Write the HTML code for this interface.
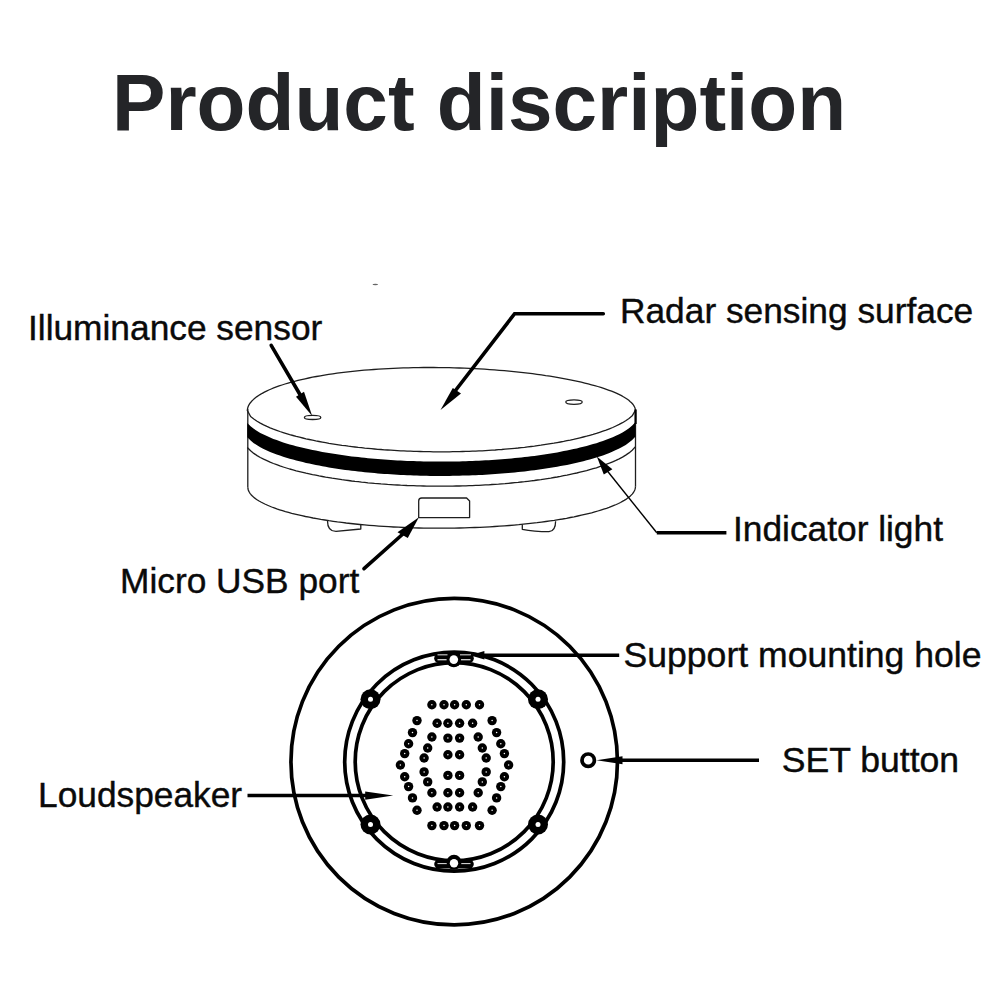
<!DOCTYPE html>
<html><head><meta charset="utf-8"><style>
html,body{margin:0;padding:0;background:#fff;width:1000px;height:1000px;overflow:hidden}
svg{position:absolute;left:0;top:0;display:block}
text{font-family:"Liberation Sans",sans-serif}
</style></head><body>
<svg width="1000" height="1000" viewBox="0 0 1000 1000">
<rect width="1000" height="1000" fill="#fff"/>
<ellipse cx="375.3" cy="284.5" rx="2.8" ry="0.7" fill="#666"/>
<text x="112" y="130.4" font-size="80.1" font-weight="bold" fill="#242528">Product discription</text>
<g font-size="35.3" fill="#0a0a0a" stroke="#0a0a0a" stroke-width="0.4">
<text x="28" y="340">Illuminance sensor</text>
<text x="620" y="323.4">Radar sensing surface</text>
<text x="733" y="541.3">Indicator light</text>
<text x="120" y="593">Micro USB port</text>
<text x="623.5" y="666.8" font-size="35.6">Support mounting hole</text>
<text x="781.8" y="772.2" font-size="35.6">SET button</text>
<text x="38" y="806.8">Loudspeaker</text>
</g>
<g fill="none" stroke="#1e1e1e" stroke-width="1.3" stroke-linejoin="round">
<polyline points="635.5,411.0 635.4,409.9 635.2,408.8 634.9,407.7 634.4,406.7 633.8,405.6 633.1,404.5 632.2,403.5 631.2,402.4 630.0,401.4 628.8,400.3 627.4,399.3 625.8,398.2 624.2,397.2 622.4,396.2 620.5,395.2 618.4,394.2 616.3,393.2 614.0,392.2 611.6,391.2 609.1,390.3 606.4,389.3 603.7,388.4 600.8,387.4 597.8,386.5 594.7,385.6 591.5,384.8 588.2,383.9 584.8,383.1 581.3,382.2 577.7,381.4 574.0,380.6 570.3,379.8 566.4,379.1 562.4,378.3 558.4,377.6 554.2,376.9 550.0,376.2 545.7,375.6 541.4,374.9 537.0,374.3 532.5,373.7 527.9,373.2 523.3,372.6 518.6,372.1 513.9,371.6 509.1,371.2 504.3,370.7 499.4,370.3 494.5,369.9 489.6,369.6 484.6,369.2 479.6,368.9 474.5,368.7 469.5,368.4 464.4,368.2 459.3,368.0 454.2,367.9 449.1,367.7 444.0,367.6 438.8,367.6 433.7,367.5 428.6,367.5 423.5,367.5 418.4,367.6 413.3,367.7 408.3,367.8 403.2,367.9 398.2,368.1 393.2,368.3 388.3,368.6 383.4,368.8 378.5,369.1 373.7,369.5 368.9,369.8 364.2,370.2 359.5,370.6 354.9,371.1 350.3,371.6 345.8,372.1 341.4,372.6 337.1,373.2 332.8,373.8 328.6,374.4 324.4,375.1 320.4,375.8 316.4,376.5 312.5,377.2 308.8,378.0 305.1,378.8 301.5,379.6 298.0,380.4 294.6,381.3 291.3,382.2 288.1,383.1 285.0,384.0 282.0,385.0 279.1,385.9 276.4,386.9 273.7,387.9 271.2,389.0 268.8,390.0 266.5,391.1 264.4,392.2 262.3,393.3 260.4,394.4 258.6,395.5 257.0,396.6 255.4,397.8 254.0,398.9 252.8,400.1 251.6,401.3 250.6,402.5 249.7,403.7 249.0,404.8 248.4,406.1 247.9,407.3 247.6,408.5 247.4,409.7 247.3,410.9"/>
<polyline points="247.3,410.4 250.6,416.5 253.8,419.0 257.1,421.2 260.3,423.1 263.6,424.8 266.9,426.4 270.1,427.8 273.4,429.1 276.7,430.3 279.9,431.5 283.2,432.6 286.4,433.6 289.7,434.6 293.0,435.5 296.2,436.4 299.5,437.2 302.8,438.0 306.0,438.8 309.3,439.5 312.5,440.2 315.8,440.9 319.1,441.5 322.3,442.1 325.6,442.7 328.9,443.3 332.1,443.8 335.4,444.3 338.6,444.8 341.9,445.3 345.2,445.7 348.4,446.2 351.7,446.6 355.0,447.0 358.2,447.4 361.5,447.7 364.7,448.1 368.0,448.4 371.3,448.7 374.5,449.0 377.8,449.3 381.0,449.5 384.3,449.8 387.6,450.0 390.8,450.2 394.1,450.4 397.4,450.6 400.6,450.8 403.9,450.9 407.1,451.1 410.4,451.2 413.7,451.3 416.9,451.4 420.2,451.5 423.5,451.6 426.7,451.7 430.0,451.7 433.2,451.8 436.5,451.8 439.8,451.8 443.0,451.8 446.3,451.8 449.6,451.8 452.8,451.7 456.1,451.7 459.3,451.6 462.6,451.5 465.9,451.4 469.1,451.3 472.4,451.2 475.7,451.1 478.9,450.9 482.2,450.8 485.4,450.6 488.7,450.4 492.0,450.2 495.2,450.0 498.5,449.7 501.8,449.5 505.0,449.2 508.3,448.9 511.5,448.6 514.8,448.3 518.1,448.0 521.3,447.6 524.6,447.3 527.8,446.9 531.1,446.5 534.4,446.1 537.6,445.6 540.9,445.2 544.2,444.7 547.4,444.2 550.7,443.7 553.9,443.2 557.2,442.6 560.5,442.0 563.7,441.4 567.0,440.7 570.3,440.1 573.5,439.4 576.8,438.6 580.0,437.8 583.3,437.0 586.6,436.2 589.8,435.3 593.1,434.4 596.4,433.4 599.6,432.3 602.9,431.2 606.1,430.1 609.4,428.8 612.7,427.5 615.9,426.0 619.2,424.4 622.5,422.7 625.7,420.7 629.0,418.5 632.2,415.8 635.5,410.2"/>
<polyline points="247.3,447.5 250.6,450.8 253.8,453.4 257.1,455.6 260.3,457.5 263.6,459.2 266.9,460.7 270.1,462.2 273.4,463.5 276.7,464.7 279.9,465.9 283.2,467.0 286.4,468.0 289.7,469.0 293.0,469.9 296.2,470.8 299.5,471.6 302.8,472.4 306.0,473.2 309.3,473.9 312.5,474.6 315.8,475.2 319.1,475.9 322.3,476.5 325.6,477.1 328.9,477.6 332.1,478.2 335.4,478.7 338.6,479.2 341.9,479.7 345.2,480.1 348.4,480.5 351.7,481.0 355.0,481.4 358.2,481.7 361.5,482.1 364.7,482.4 368.0,482.8 371.3,483.1 374.5,483.4 377.8,483.6 381.0,483.9 384.3,484.1 387.6,484.4 390.8,484.6 394.1,484.8 397.4,485.0 400.6,485.2 403.9,485.3 407.1,485.5 410.4,485.6 413.7,485.7 416.9,485.8 420.2,485.9 423.5,486.0 426.7,486.1 430.0,486.1 433.2,486.1 436.5,486.2 439.8,486.2 443.0,486.2 446.3,486.2 449.6,486.1 452.8,486.1 456.1,486.0 459.3,486.0 462.6,485.9 465.9,485.8 469.1,485.7 472.4,485.6 475.7,485.4 478.9,485.3 482.2,485.1 485.4,484.9 488.7,484.8 492.0,484.5 495.2,484.3 498.5,484.1 501.8,483.8 505.0,483.6 508.3,483.3 511.5,483.0 514.8,482.7 518.1,482.4 521.3,482.0 524.6,481.7 527.8,481.3 531.1,480.9 534.4,480.5 537.6,480.0 540.9,479.6 544.2,479.1 547.4,478.6 550.7,478.1 553.9,477.5 557.2,477.0 560.5,476.4 563.7,475.7 567.0,475.1 570.3,474.4 573.5,473.7 576.8,473.0 580.0,472.2 583.3,471.4 586.6,470.6 589.8,469.7 593.1,468.7 596.4,467.8 599.6,466.7 602.9,465.6 606.1,464.4 609.4,463.2 612.7,461.8 615.9,460.4 619.2,458.8 622.5,457.1 625.7,455.1 629.0,452.9 632.2,450.2 635.5,446.6"/>
<polyline points="635.5,486.4 635.4,487.5 635.2,488.6 634.9,489.7 634.4,490.8 633.8,491.9 633.1,493.0 632.2,494.1 631.2,495.1 630.1,496.2 628.8,497.3 627.4,498.3 625.9,499.4 624.2,500.4 622.4,501.4 620.5,502.5 618.5,503.5 616.3,504.5 614.0,505.4 611.6,506.4 609.1,507.4 606.5,508.3 603.7,509.2 600.8,510.1 597.9,511.0 594.8,511.9 591.6,512.8 588.3,513.6 584.9,514.4 581.4,515.2 577.8,516.0 574.1,516.8 570.3,517.5 566.5,518.3 562.5,519.0 558.5,519.6 554.3,520.3 550.1,520.9 545.9,521.5 541.5,522.1 537.1,522.7 532.6,523.2 528.1,523.7 523.4,524.2 518.8,524.7 514.1,525.1 509.3,525.5 504.5,525.9 499.6,526.2 494.7,526.5 489.8,526.8 484.8,527.1 479.8,527.3 474.8,527.5 469.7,527.7 464.6,527.9 459.5,528.0 454.4,528.1 449.3,528.2 444.2,528.2 439.1,528.2 434.0,528.2 428.9,528.1 423.8,528.1 418.7,528.0 413.6,527.8 408.5,527.7 403.5,527.5 398.5,527.2 393.5,527.0 388.6,526.7 383.7,526.4 378.8,526.1 374.0,525.7 369.2,525.3 364.5,524.9 359.9,524.5 355.2,524.0 350.7,523.5 346.2,523.0 341.8,522.4 337.4,521.9 333.2,521.3 329.0,520.7 324.8,520.0 320.8,519.4 316.8,518.7 313.0,518.0 309.2,517.2 305.5,516.5 301.9,515.7 298.4,514.9 295.0,514.1 291.7,513.3 288.5,512.4 285.4,511.6 282.5,510.7 279.6,509.8 276.8,508.9 274.2,507.9 271.7,507.0 269.3,506.0 267.0,505.0 264.8,504.0 262.8,503.0 260.9,502.0 259.1,501.0 257.4,500.0 255.9,498.9 254.5,497.9 253.2,496.8 252.1,495.8 251.1,494.7 250.2,493.6 249.5,492.5 248.9,491.4 248.4,490.4 248.1,489.3 247.9,488.2 247.8,487.1"/>
<line x1="247.8" y1="409" x2="247.8" y2="487.1"/>
<line x1="635.5" y1="409" x2="635.5" y2="486.5"/>
<ellipse cx="312.6" cy="417.4" rx="8.2" ry="2.1"/>
<ellipse cx="574" cy="402.1" rx="8.2" ry="2.2"/>
<path d="M418.7 517.6 V501 Q418.7 498 421.7 498 H466.6 L469.6 501 V517.6 Z"/>
<path d="M327.5 521 Q327.5 531.4 336 531.4 Q350 530 360.8 529 V524.7"/>
<path d="M522.3 524.5 V529.3 Q534 531.7 549 531.7 Q555.6 531 555.6 521.2"/>
</g>
<polygon points="247.3,422.9 250.6,426.2 253.8,428.8 257.1,431.0 260.3,432.9 263.6,434.6 266.9,436.1 270.1,437.6 273.4,438.9 276.7,440.1 279.9,441.3 283.2,442.4 286.4,443.4 289.7,444.4 293.0,445.3 296.2,446.2 299.5,447.0 302.8,447.8 306.0,448.6 309.3,449.3 312.5,450.0 315.8,450.6 319.1,451.3 322.3,451.9 325.6,452.5 328.9,453.0 332.1,453.6 335.4,454.1 338.6,454.6 341.9,455.1 345.2,455.5 348.4,455.9 351.7,456.4 355.0,456.8 358.2,457.1 361.5,457.5 364.7,457.8 368.0,458.2 371.3,458.5 374.5,458.8 377.8,459.0 381.0,459.3 384.3,459.5 387.6,459.8 390.8,460.0 394.1,460.2 397.4,460.4 400.6,460.6 403.9,460.7 407.1,460.9 410.4,461.0 413.7,461.1 416.9,461.2 420.2,461.3 423.5,461.4 426.7,461.5 430.0,461.5 433.2,461.5 436.5,461.6 439.8,461.6 443.0,461.6 446.3,461.6 449.6,461.5 452.8,461.5 456.1,461.4 459.3,461.4 462.6,461.3 465.9,461.2 469.1,461.1 472.4,461.0 475.7,460.8 478.9,460.7 482.2,460.5 485.4,460.3 488.7,460.2 492.0,459.9 495.2,459.7 498.5,459.5 501.8,459.2 505.0,459.0 508.3,458.7 511.5,458.4 514.8,458.1 518.1,457.8 521.3,457.4 524.6,457.1 527.8,456.7 531.1,456.3 534.4,455.9 537.6,455.4 540.9,455.0 544.2,454.5 547.4,454.0 550.7,453.5 553.9,452.9 557.2,452.4 560.5,451.8 563.7,451.1 567.0,450.5 570.3,449.8 573.5,449.1 576.8,448.4 580.0,447.6 583.3,446.8 586.6,446.0 589.8,445.1 593.1,444.1 596.4,443.2 599.6,442.1 602.9,441.0 606.1,439.8 609.4,438.6 612.7,437.2 615.9,435.8 619.2,434.2 622.5,432.5 625.7,430.5 629.0,428.3 632.2,425.6 635.5,422.0 635.5,436.4 632.2,439.9 629.0,442.6 625.7,444.9 622.5,446.8 619.2,448.6 615.9,450.1 612.7,451.6 609.4,452.9 606.1,454.2 602.9,455.4 599.6,456.5 596.4,457.5 593.1,458.5 589.8,459.4 586.6,460.3 583.3,461.2 580.0,462.0 576.8,462.7 573.5,463.5 570.3,464.2 567.0,464.9 563.7,465.5 560.5,466.1 557.2,466.7 553.9,467.3 550.7,467.8 547.4,468.3 544.2,468.8 540.9,469.3 537.6,469.8 534.4,470.2 531.1,470.6 527.8,471.0 524.6,471.4 521.3,471.8 518.1,472.1 514.8,472.4 511.5,472.8 508.3,473.0 505.0,473.3 501.8,473.6 498.5,473.8 495.2,474.1 492.0,474.3 488.7,474.5 485.4,474.7 482.2,474.9 478.9,475.0 475.7,475.2 472.4,475.3 469.1,475.4 465.9,475.5 462.6,475.6 459.3,475.7 456.1,475.8 452.8,475.8 449.6,475.9 446.3,475.9 443.0,475.9 439.8,475.9 436.5,475.9 433.2,475.9 430.0,475.9 426.7,475.8 423.5,475.7 420.2,475.7 416.9,475.6 413.7,475.5 410.4,475.3 407.1,475.2 403.9,475.1 400.6,474.9 397.4,474.7 394.1,474.5 390.8,474.3 387.6,474.1 384.3,473.9 381.0,473.7 377.8,473.4 374.5,473.1 371.3,472.8 368.0,472.5 364.7,472.2 361.5,471.8 358.2,471.5 355.0,471.1 351.7,470.7 348.4,470.3 345.2,469.9 341.9,469.4 338.6,468.9 335.4,468.4 332.1,467.9 328.9,467.4 325.6,466.8 322.3,466.2 319.1,465.6 315.8,465.0 312.5,464.3 309.3,463.6 306.0,462.9 302.8,462.1 299.5,461.3 296.2,460.5 293.0,459.6 289.7,458.7 286.4,457.7 283.2,456.7 279.9,455.6 276.7,454.5 273.4,453.2 270.1,451.9 266.9,450.5 263.6,448.9 260.3,447.2 257.1,445.3 253.8,443.2 250.6,440.6 247.3,437.3" fill="#000"/>
<g stroke="#000" stroke-width="3.6" fill="none" stroke-linecap="round" stroke-linejoin="miter">
<polyline points="603.3,313.75 514.6,313.75 452,395"/>
<line x1="271.2" y1="345.4" x2="302" y2="398"/>
<line x1="364" y1="568.7" x2="404" y2="533"/>
<line x1="656.8" y1="532.8" x2="726.4" y2="532.8" stroke-linecap="butt"/>
</g>
<line x1="656.8" y1="532.8" x2="605" y2="468" stroke="#000" stroke-width="1.4"/>
<g fill="#000">
<polygon points="440.5,410 452.8,387.9 461,393.6"/>
<polygon points="312.2,416 296,396.7 304,391.7"/>
<polygon points="418.9,517.3 397.5,532.3 407.8,538"/>
<polygon points="596.8,456.4 603.8,474.4 612.4,469.2"/>
<line x1="635.6" y1="409.5" x2="635.6" y2="424" stroke="#000" stroke-width="2.2"/>
</g>
<g fill="none" stroke="#000" stroke-width="3.7">
<circle cx="454.2" cy="761.65" r="163.25"/>
<circle cx="454.2" cy="761.65" r="109.5"/>
<circle cx="454.2" cy="761.65" r="99"/>
<circle cx="588.2" cy="760.2" r="6.2"/>
</g>
<g fill="#000">
<circle cx="370.5" cy="699.3" r="10"/>
<circle cx="538" cy="699.3" r="10"/>
<circle cx="370.5" cy="824.5" r="10"/>
<circle cx="538" cy="824.5" r="10"/>
</g>
<g fill="#fff">
<circle cx="370.5" cy="699.3" r="2.5"/>
<circle cx="538" cy="699.3" r="2.5"/>
<circle cx="370.5" cy="824.5" r="2.5"/>
<circle cx="538" cy="824.5" r="2.5"/>
</g>
<g>
<rect x="434.2" y="653.2" width="39.6" height="10" rx="5" fill="#000"/>
<rect x="437.5" y="654.4" width="10" height="0.9" fill="#fff"/>
<rect x="460" y="654.4" width="11" height="0.9" fill="#fff"/>
<rect x="437.5" y="659.2" width="33" height="1.1" fill="#fff"/>
<circle cx="453.8" cy="660" r="7.3" fill="#000"/>
<circle cx="453.8" cy="659.6" r="4.3" fill="#fff"/>
<rect x="434.2" y="859.6" width="39.6" height="9" rx="4.5" fill="#000"/>
<rect x="437.5" y="863.2" width="33" height="0.9" fill="#fff"/>
<circle cx="454" cy="862.3" r="7.5" fill="#000"/>
<circle cx="454" cy="863.2" r="4.2" fill="#fff"/>
</g>
<g fill="#000"><circle cx="431.9" cy="704.7" r="4.7"/><circle cx="431.9" cy="825.6" r="4.7"/><circle cx="444" cy="704.7" r="4.7"/><circle cx="444" cy="825.6" r="4.7"/><circle cx="454.6" cy="704.7" r="4.7"/><circle cx="454.6" cy="825.6" r="4.7"/><circle cx="466.3" cy="704.7" r="4.7"/><circle cx="466.3" cy="825.6" r="4.7"/><circle cx="479.5" cy="704.7" r="4.7"/><circle cx="479.5" cy="825.6" r="4.7"/><circle cx="417" cy="720.6" r="4.7"/><circle cx="412.5" cy="732.6" r="4.7"/><circle cx="408.6" cy="743.8" r="4.7"/><circle cx="404.7" cy="753.6" r="4.7"/><circle cx="400.4" cy="765" r="4.7"/><circle cx="404.7" cy="776.7" r="4.7"/><circle cx="408.6" cy="786.6" r="4.7"/><circle cx="412.5" cy="797.9" r="4.7"/><circle cx="417" cy="810.2" r="4.7"/><circle cx="492.1" cy="720.6" r="4.7"/><circle cx="496.6" cy="732.6" r="4.7"/><circle cx="500.8" cy="743.8" r="4.7"/><circle cx="504.4" cy="753.6" r="4.7"/><circle cx="508.6" cy="765" r="4.7"/><circle cx="504.4" cy="776.7" r="4.7"/><circle cx="500.8" cy="786.6" r="4.7"/><circle cx="496.6" cy="797.9" r="4.7"/><circle cx="492.1" cy="810.2" r="4.7"/><circle cx="437.1" cy="723.2" r="4.7"/><circle cx="437.1" cy="807" r="4.7"/><circle cx="447.9" cy="723.2" r="4.7"/><circle cx="447.9" cy="807" r="4.7"/><circle cx="459.6" cy="723.2" r="4.7"/><circle cx="459.6" cy="807" r="4.7"/><circle cx="472.6" cy="723.2" r="4.7"/><circle cx="472.6" cy="807" r="4.7"/><circle cx="431.9" cy="737" r="4.7"/><circle cx="427.7" cy="748" r="4.7"/><circle cx="424.1" cy="758" r="4.7"/><circle cx="424.1" cy="771.9" r="4.7"/><circle cx="427.7" cy="781.9" r="4.7"/><circle cx="431.9" cy="792.7" r="4.7"/><circle cx="478.2" cy="737" r="4.7"/><circle cx="482.3" cy="748" r="4.7"/><circle cx="486.2" cy="758" r="4.7"/><circle cx="486.2" cy="771.9" r="4.7"/><circle cx="482.3" cy="781.9" r="4.7"/><circle cx="478.2" cy="792.7" r="4.7"/><circle cx="447.9" cy="738.1" r="4.7"/><circle cx="459.6" cy="738.1" r="4.7"/><circle cx="447.9" cy="754.7" r="4.7"/><circle cx="459.6" cy="754.7" r="4.7"/><circle cx="447.9" cy="775.4" r="4.7"/><circle cx="459.6" cy="775.4" r="4.7"/><circle cx="447.9" cy="792.7" r="4.7"/><circle cx="459.6" cy="792.7" r="4.7"/></g>
<g fill="#fff"><circle cx="431.9" cy="704.7" r="0.75"/><circle cx="431.9" cy="825.6" r="0.75"/><circle cx="444" cy="704.7" r="0.75"/><circle cx="444" cy="825.6" r="0.75"/><circle cx="454.6" cy="704.7" r="0.75"/><circle cx="454.6" cy="825.6" r="0.75"/><circle cx="466.3" cy="704.7" r="0.75"/><circle cx="466.3" cy="825.6" r="0.75"/><circle cx="479.5" cy="704.7" r="0.75"/><circle cx="479.5" cy="825.6" r="0.75"/><circle cx="417" cy="720.6" r="0.75"/><circle cx="412.5" cy="732.6" r="0.75"/><circle cx="408.6" cy="743.8" r="0.75"/><circle cx="404.7" cy="753.6" r="0.75"/><circle cx="400.4" cy="765" r="0.75"/><circle cx="404.7" cy="776.7" r="0.75"/><circle cx="408.6" cy="786.6" r="0.75"/><circle cx="412.5" cy="797.9" r="0.75"/><circle cx="417" cy="810.2" r="0.75"/><circle cx="492.1" cy="720.6" r="0.75"/><circle cx="496.6" cy="732.6" r="0.75"/><circle cx="500.8" cy="743.8" r="0.75"/><circle cx="504.4" cy="753.6" r="0.75"/><circle cx="508.6" cy="765" r="0.75"/><circle cx="504.4" cy="776.7" r="0.75"/><circle cx="500.8" cy="786.6" r="0.75"/><circle cx="496.6" cy="797.9" r="0.75"/><circle cx="492.1" cy="810.2" r="0.75"/><circle cx="437.1" cy="723.2" r="0.75"/><circle cx="437.1" cy="807" r="0.75"/><circle cx="447.9" cy="723.2" r="0.75"/><circle cx="447.9" cy="807" r="0.75"/><circle cx="459.6" cy="723.2" r="0.75"/><circle cx="459.6" cy="807" r="0.75"/><circle cx="472.6" cy="723.2" r="0.75"/><circle cx="472.6" cy="807" r="0.75"/><circle cx="431.9" cy="737" r="0.75"/><circle cx="427.7" cy="748" r="0.75"/><circle cx="424.1" cy="758" r="0.75"/><circle cx="424.1" cy="771.9" r="0.75"/><circle cx="427.7" cy="781.9" r="0.75"/><circle cx="431.9" cy="792.7" r="0.75"/><circle cx="478.2" cy="737" r="0.75"/><circle cx="482.3" cy="748" r="0.75"/><circle cx="486.2" cy="758" r="0.75"/><circle cx="486.2" cy="771.9" r="0.75"/><circle cx="482.3" cy="781.9" r="0.75"/><circle cx="478.2" cy="792.7" r="0.75"/><circle cx="447.9" cy="738.1" r="0.75"/><circle cx="459.6" cy="738.1" r="0.75"/><circle cx="447.9" cy="754.7" r="0.75"/><circle cx="459.6" cy="754.7" r="0.75"/><circle cx="447.9" cy="775.4" r="0.75"/><circle cx="459.6" cy="775.4" r="0.75"/><circle cx="447.9" cy="792.7" r="0.75"/><circle cx="459.6" cy="792.7" r="0.75"/></g>
<g stroke="#000" stroke-width="3.5" fill="none">
<line x1="484" y1="655.3" x2="619.2" y2="655.3"/>
<line x1="247.5" y1="795.6" x2="366" y2="795.6"/>
<line x1="622" y1="760.2" x2="759" y2="760.2"/>
</g>
<g fill="#000">
<polygon points="470,655.3 484.4,651 484.4,659.5"/>
<polygon points="393.2,795.6 365.2,791.4 365.2,799.8"/>
<polygon points="596.5,760.2 622.5,756.2 622.5,764.2"/>
</g>
</svg>
</body></html>
